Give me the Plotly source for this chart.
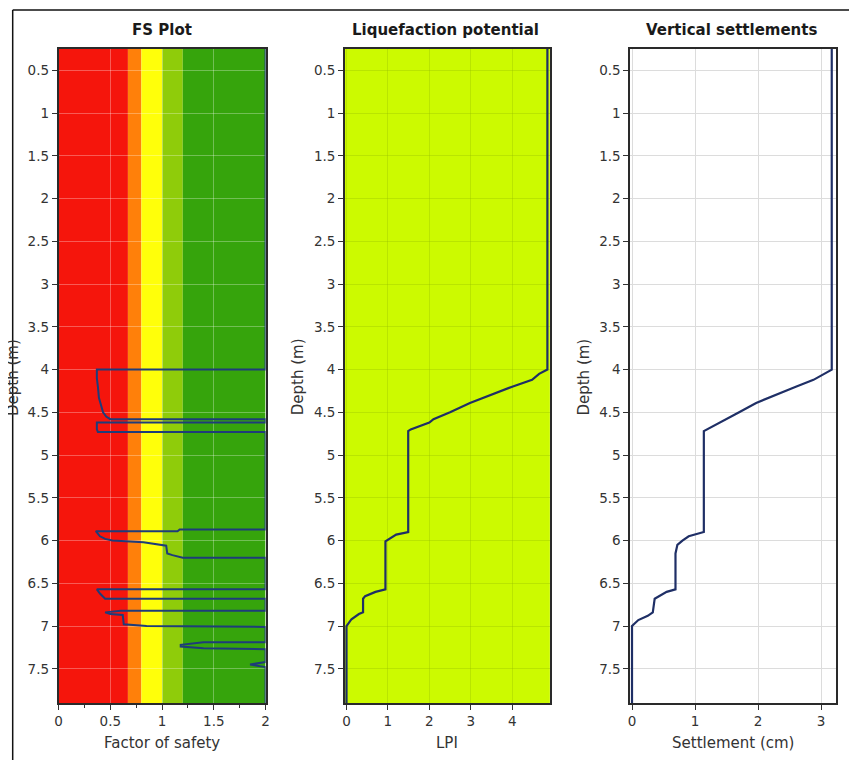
import plotly.graph_objects as go

# page body has an 8px margin: figure drawn at offset (8, 8)
OFF = 8
W, H = 857 - OFF, 760 - OFF

# ---------------- data ----------------
fs_depth = [0.25, 4.0, 4.0, 4.1, 4.2, 4.33, 4.5, 4.55, 4.58, 4.58, 4.62, 4.62, 4.7, 4.73, 4.73,
            5.87, 5.87, 5.89, 5.89, 5.95, 5.98, 6.0, 6.02, 6.04, 6.06, 6.15, 6.17, 6.2, 6.2,
            6.57, 6.57, 6.62, 6.66, 6.68, 6.68, 6.82, 6.82, 6.84, 6.86, 6.87, 6.98, 7.0, 7.01,
            7.19, 7.19, 7.22, 7.24, 7.26, 7.27, 7.42, 7.45, 7.48, 7.9]
fs_value = [2.0, 2.0, 0.37, 0.37, 0.38, 0.39, 0.43, 0.46, 0.5, 2.0, 2.0, 0.37, 0.37, 0.38, 2.0,
            2.0, 1.17, 1.15, 0.36, 0.4, 0.45, 0.52, 0.82, 0.94, 1.04, 1.05, 1.1, 1.2, 2.0,
            2.0, 0.37, 0.4, 0.43, 0.45, 2.0, 2.0, 0.6, 0.45, 0.5, 0.62, 0.63, 0.85, 2.0,
            2.0, 1.4, 1.18, 1.18, 1.4, 2.0, 2.0, 1.85, 2.0, 2.0]

fs_band_edges = [0.0, 0.67, 0.8, 1.0, 1.2, 2.0]
fs_band_colors = ["#f5150c", "#ff800a", "#ffff0a", "#8fcc0a", "#36a40c"]

lpi_depth = [0.25, 4.0, 4.05, 4.12, 4.2, 4.3, 4.39, 4.5, 4.58, 4.62, 4.7, 4.72, 5.9, 5.93, 6.0, 6.01,
             6.57, 6.6, 6.65, 6.68, 6.84, 6.86, 6.92, 7.0, 7.9]
lpi_value = [4.85, 4.85, 4.65, 4.48, 4.0, 3.45, 2.98, 2.5, 2.1, 2.0, 1.55, 1.49, 1.49, 1.2, 0.98, 0.94,
             0.94, 0.7, 0.45, 0.4, 0.4, 0.3, 0.12, 0.0, 0.0]

set_depth = [0.25, 4.0, 4.05, 4.12, 4.2, 4.39, 4.5, 4.58, 4.62, 4.7, 4.72, 5.9, 5.95, 6.0, 6.05, 6.15,
             6.57, 6.6, 6.68, 6.84, 6.88, 6.93, 7.0, 7.9]
set_value = [3.17, 3.17, 3.05, 2.88, 2.6, 1.97, 1.7, 1.5, 1.4, 1.2, 1.14, 1.14, 0.9, 0.8, 0.72, 0.69,
             0.69, 0.55, 0.36, 0.33, 0.25, 0.1, 0.0, 0.0]

depth_ticks = [0.5, 1, 1.5, 2, 2.5, 3, 3.5, 4, 4.5, 5, 5.5, 6, 6.5, 7, 7.5]
depth_labels = ["0.5", "1", "1.5", "2", "2.5", "3", "3.5", "4", "4.5", "5", "5.5", "6", "6.5", "7", "7.5"]
depth_range = [7.9, 0.25]

fs_ticks = [0, 0.5, 1, 1.5, 2]
fs_labels = ["0", "0.5", "1", "1.5", "2"]
lpi_ticks = [0, 1, 2, 3, 4]
set_ticks = [0, 1, 2, 3]

titles = ["FS Plot", "Liquefaction potential", "Vertical settlements"]
xtitles = ["Factor of safety", "LPI", "Settlement (cm)"]

# ---------------- layout helpers (window pixel -> paper) ----------------
def px_x(p):
    return (p - OFF) / W

def px_y(p):
    return 1 - (p - OFF) / H

FONT = "DejaVu Sans"
TXT = "#333333"
LINE = "#1f2f66"

doms = [(px_x(55), px_x(264)), (px_x(344), px_x(551)), (px_x(632), px_x(840))]
ydom = (px_y(703), px_y(49))

fig = go.Figure()

fig.add_trace(go.Scatter(x=fs_value, y=fs_depth, mode="lines", xaxis="x", yaxis="y",
                         line=dict(color="#1e3c7a", width=2), showlegend=False, hoverinfo="skip"))
fig.add_trace(go.Scatter(x=lpi_value, y=lpi_depth, mode="lines", xaxis="x2", yaxis="y2",
                         line=dict(color=LINE, width=2.2), showlegend=False, hoverinfo="skip"))
fig.add_trace(go.Scatter(x=set_value, y=set_depth, mode="lines", xaxis="x3", yaxis="y3",
                         line=dict(color=LINE, width=2.2), showlegend=False, hoverinfo="skip"))

shapes = []
for i in range(len(fs_band_colors)):
    shapes.append(dict(type="rect", xref="x", yref="y domain", x0=fs_band_edges[i], x1=fs_band_edges[i + 1],
                       y0=0, y1=1, fillcolor=fs_band_colors[i], line=dict(width=0), layer="below"))
shapes.append(dict(type="rect", xref="x2 domain", yref="y2 domain", x0=0, x1=1, y0=0, y1=1,
                   fillcolor="#ccfa00", line=dict(width=0), layer="below"))
# outer frame (left and top)
shapes.append(dict(type="line", xref="paper", yref="paper", x0=px_x(8.7), x1=px_x(8.7), y0=0, y1=px_y(10),
                   line=dict(color="#111111", width=1.5)))
shapes.append(dict(type="line", xref="paper", yref="paper", x0=px_x(8.7), x1=1, y0=px_y(10), y1=px_y(10),
                   line=dict(color="#111111", width=1.5)))

axis_common = dict(showline=True, mirror=True, linecolor="#2a2a2a", linewidth=1.5,
                   ticks="outside", ticklen=5, tickcolor="#333333", tickwidth=1,
                   tickfont=dict(family=FONT, size=13.5, color=TXT), zeroline=False)

ygrid = ["rgba(255,255,255,0.30)", "rgba(150,190,0,0.35)", "#dcdcdc"]
xgrid = ["rgba(255,255,255,0.30)", "rgba(150,190,0,0.35)", "#dcdcdc"]

layout = dict(width=W, height=H, margin=dict(l=0, r=0, t=0, b=0),
              paper_bgcolor="white", plot_bgcolor="white", shapes=shapes, showlegend=False)

xranges = [[0, 2], [-0.04, 4.91], [-0.03, 3.24]]
xtickv = [fs_ticks, lpi_ticks, set_ticks]
xtickt = [fs_labels, [str(v) for v in lpi_ticks], [str(v) for v in set_ticks]]

for i in range(3):
    sfx = "" if i == 0 else str(i + 1)
    xa = dict(axis_common, domain=list(doms[i]), anchor="y" + sfx, range=xranges[i],
              tickvals=xtickv[i], ticktext=xtickt[i], showgrid=True, gridcolor=xgrid[i], gridwidth=1)
    if i == 0:
        xa["minor"] = dict(dtick=0.25, ticks="outside", ticklen=3, tickcolor="#333333", showgrid=False)
    ya = dict(axis_common, domain=list(ydom), anchor="x" + sfx, range=depth_range,
              tickvals=depth_ticks, ticktext=depth_labels, showgrid=True, gridcolor=ygrid[i], gridwidth=1)
    layout["xaxis" + sfx] = xa
    layout["yaxis" + sfx] = ya

title_x = [159, 446, 734]
ann = []
for i in range(3):
    ann.append(dict(text="<b>%s</b>" % titles[i], xref="paper", yref="paper", x=px_x(title_x[i]), y=px_y(30),
                    showarrow=False, xanchor="center", yanchor="middle",
                    font=dict(family=FONT, size=15, color="#1a1a1a")))
    ann.append(dict(text=xtitles[i], xref="paper", yref="paper",
                    x=(doms[i][0] + doms[i][1]) / 2, y=px_y(743),
                    showarrow=False, xanchor="center", yanchor="middle",
                    font=dict(family=FONT, size=15, color=TXT)))
ylab_x = [9, 297, 585]
for i in range(3):
    ann.append(dict(text="Depth (m)", xref="paper", yref="paper", x=px_x(ylab_x[i]), y=px_y(377),
                    showarrow=False, xanchor="center", yanchor="middle", textangle=-90,
                    font=dict(family=FONT, size=15, color=TXT)))
layout["annotations"] = ann

fig.update_layout(**layout)
fig.write_html("out.html")
